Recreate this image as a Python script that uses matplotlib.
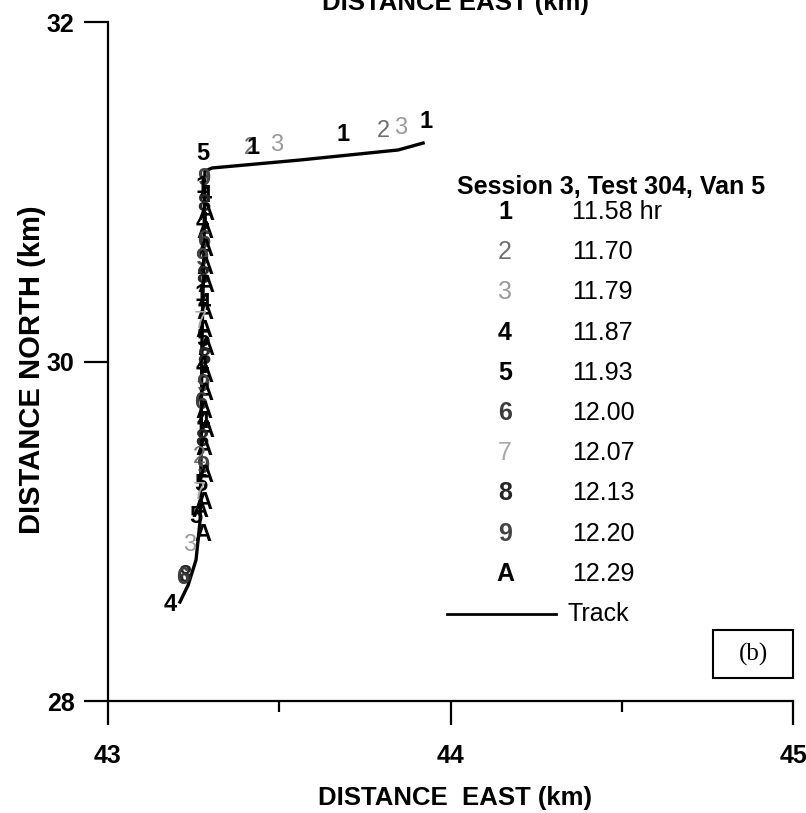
import matplotlib
matplotlib.use("Agg")
import matplotlib.pyplot as plt
from matplotlib import font_manager
from matplotlib.lines import Line2D
from matplotlib.patches import Rectangle

# narrow sans if it is there, like the scanned figure
names = {f.name for f in font_manager.fontManager.ttflist}
fam = "Liberation Sans Narrow" if "Liberation Sans Narrow" in names else "Liberation Sans"
plt.rcParams["font.family"] = fam

# van track (km)
track_x = [43.920, 43.847, 43.561, 43.304, 43.283, 43.280, 43.274,
           43.272, 43.269, 43.257, 43.234, 43.210]
track_y = [31.287, 31.246, 31.187, 31.140, 31.122, 30.657, 30.068,
           29.479, 29.066, 28.831, 28.683, 28.583]

# time marks along the track
pt_lab = ["1", "3", "2", "1", "3", "2", "1", "5",
          "9", "1", "4", "8", "A", "4", "A", "6", "A", "9",
          "A", "8", "A", "1", "4", "A", "7", "A", "5", "A",
          "8", "4", "A", "9", "A", "6", "A", "4", "A", "8",
          "A", "2", "9", "A", "5", "7", "A",
          "A", "5", "A", "3", "8", "6", "4"]
pt_x = [43.928, 43.855, 43.803, 43.686, 43.493, 43.415, 43.423, 43.277,
        43.280, 43.276, 43.284, 43.279, 43.286, 43.274, 43.283, 43.278, 43.284, 43.273,
        43.282, 43.277, 43.285, 43.272, 43.280, 43.284, 43.270, 43.281, 43.276, 43.285,
        43.279, 43.274, 43.283, 43.277, 43.284, 43.272, 43.281, 43.278, 43.285, 43.274,
        43.280, 43.268, 43.276, 43.283, 43.271, 43.266, 43.279,
        43.269, 43.257, 43.277, 43.239, 43.224, 43.219, 43.181]
pt_y = [31.411, 31.376, 31.358, 31.340, 31.275, 31.258, 31.258, 31.228,
        31.081, 31.028, 30.975, 30.922, 30.869, 30.816, 30.763, 30.710, 30.657, 30.604,
        30.551, 30.498, 30.445, 30.392, 30.339, 30.286, 30.233, 30.180, 30.127, 30.074,
        30.021, 29.968, 29.915, 29.862, 29.809, 29.756, 29.703, 29.649, 29.596, 29.543,
        29.490, 29.437, 29.384, 29.331, 29.278, 29.225, 29.172,
        29.125, 29.084, 28.978, 28.919, 28.742, 28.725, 28.571]

# legend: mark code -> time (hr)
codes = ["1", "2", "3", "4", "5", "6", "7", "8", "9", "A"]
hours = ["11.58 hr", "11.70", "11.79", "11.87", "11.93",
         "12.00", "12.07", "12.13", "12.20", "12.29"]

look = {"1": ("black", "bold"), "2": ("#6e6e6e", "normal"), "3": ("#9a9a9a", "normal"),
        "4": ("black", "bold"), "5": ("black", "bold"), "6": ("#3c3c3c", "bold"),
        "7": ("#a8a8a8", "normal"), "8": ("#262626", "bold"), "9": ("#444444", "bold"),
        "A": ("black", "bold")}

W, H = 806, 813
fig = plt.figure(figsize=(W / 100, H / 100), dpi=100)
ax = fig.add_axes([108 / W, 1 - 701 / H, 685 / W, 679 / H])

def fx(px):
    return px / W

def fy(py):
    return 1 - py / H

ax.plot(track_x, track_y, color="black", lw=2.4, zorder=2)
for lab, x, y in zip(pt_lab, pt_x, pt_y):
    c, w = look[lab]
    ax.text(x, y, lab, color=c, fontweight=w, fontsize=17,
            ha="center", va="center", zorder=3)

ax.set_xlim(43, 45)
ax.set_ylim(28, 32)
ax.set_xticks([43, 44, 45])
ax.set_xticks([43.5, 44.5], minor=True)
ax.set_yticks([28, 30, 32])
ax.spines["top"].set_visible(False)
ax.spines["right"].set_visible(False)
for s in ["left", "bottom"]:
    ax.spines[s].set_linewidth(1.6)
ax.tick_params(which="major", direction="out", length=17, width=1.6,
               labelsize=18, pad=7)
ax.tick_params(axis="x", which="major", pad=14)
ax.tick_params(which="minor", direction="out", length=8, width=1.6)
for t in ax.get_xticklabels() + ax.get_yticklabels():
    t.set_fontweight("bold")

ax.set_xlabel("DISTANCE  EAST (km)", fontsize=18.5, fontweight="bold")
ax.xaxis.set_label_coords(0.507, -0.125)
ax.set_ylabel("DISTANCE NORTH (km)", fontsize=21, fontweight="bold")
ax.yaxis.set_label_coords(-0.09, 0.4875)

# label of the panel above, cut by the page edge
fig.text(fx(455), fy(3), "DISTANCE EAST (km)", fontsize=18.5, fontweight="bold",
         ha="center", va="center")

# legend block
fig.text(fx(611), fy(187), "Session 3, Test 304, Van 5", fontsize=18,
         fontweight="bold", ha="center", va="center")
for i, (c, h) in enumerate(zip(codes, hours)):
    yy = fy(212 + 40.2 * i)
    col, w = look[c]
    fig.text(fx(505), yy, c, color=col, fontweight=w, fontsize=18,
             ha="center", va="center")
    fig.text(fx(572), yy, h, fontsize=18, ha="left", va="center")
fig.add_artist(Line2D([fx(447), fx(556)], [fy(614), fy(614)], color="black", lw=2))
fig.text(fx(568), fy(614), "Track", fontsize=18, ha="left", va="center")

fig.add_artist(Rectangle((fx(713), fy(678)), 80 / W, 48 / H, transform=fig.transFigure,
                         fill=False, ec="black", lw=1.5))
fig.text(fx(753), fy(654), "(b)", family="Liberation Serif", fontsize=18,
         ha="center", va="center")

fig.savefig("out.png", dpi=100, facecolor="white")
